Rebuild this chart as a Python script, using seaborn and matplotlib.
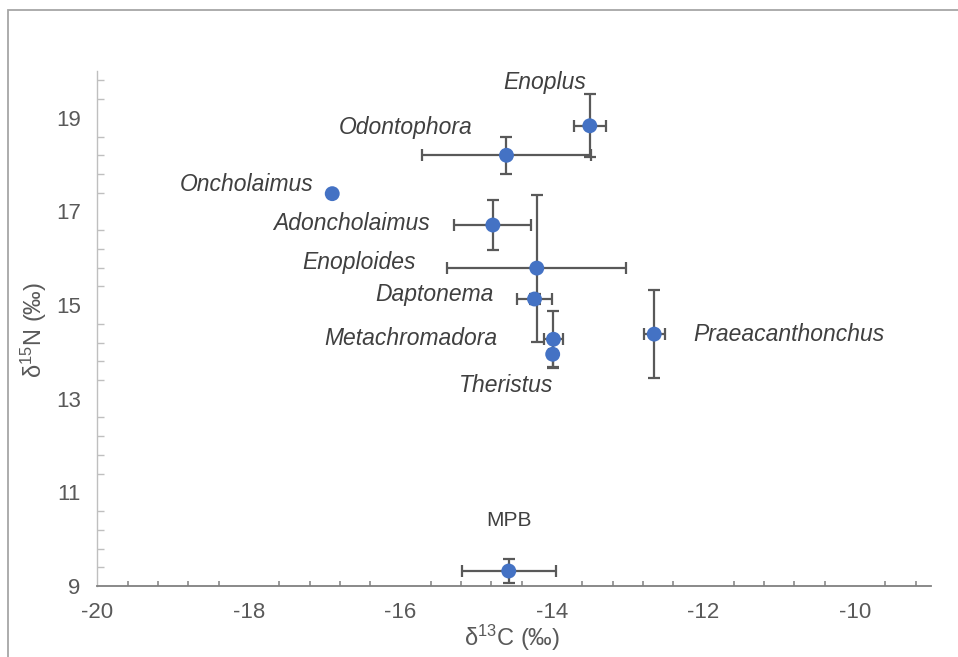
import numpy as np
import pandas as pd
import matplotlib
matplotlib.use("Agg")
import matplotlib.pyplot as plt
from matplotlib.patches import Rectangle
import seaborn as sns

# Stable isotope values (mean and error) for nematode genera and microphytobenthos
taxa = ["Enoplus", "Odontophora", "Oncholaimus", "Adoncholaimus", "Enoploides",
        "Daptonema", "Metachromadora", "Theristus", "Praeacanthonchus", "MPB"]
d13c = [-13.50, -14.60, -16.90, -14.78, -14.20, -14.23, -13.98, -13.99, -12.65, -14.57]
d15n = [18.83, 18.20, 17.38, 16.71, 15.79, 15.13, 14.27, 13.95, 14.38, 9.32]
d13c_err = [0.21, 1.12, 0.0, 0.51, 1.18, 0.23, 0.12, 0.05, 0.14, 0.62]
d15n_err = [0.67, 0.40, 0.0, 0.54, 1.57, 0.10, 0.60, 0.30, 0.94, 0.25]

x_major = [-20, -18, -16, -14, -12, -10]
y_major = [9, 11, 13, 15, 17, 19]

df = pd.DataFrame({"taxon": taxa, "d13C": d13c, "d15N": d15n,
                   "d13C_err": d13c_err, "d15N_err": d15n_err})

sns.set_theme(style="white")
plt.rcParams["font.family"] = ["Liberation Sans", "DejaVu Sans"]
plt.rcParams["mathtext.fontset"] = "custom"
plt.rcParams["mathtext.rm"] = "Liberation Sans"
plt.rcParams["mathtext.it"] = "Liberation Sans:italic"

W, H = 958, 657
fig = plt.figure(figsize=(W / 100, H / 100), dpi=100)
ax = fig.add_axes([97.4 / W, (H - 586) / H, 833.3 / W, 515 / H])

# chart-area frame
fig.add_artist(Rectangle((8 / W, -1), 2, 1 + (H - 10) / H, transform=fig.transFigure,
                         fill=False, edgecolor="#A6A6A6", linewidth=1.3))

# error bars for taxa that have them
err = df[(df["d13C_err"] > 0) | (df["d15N_err"] > 0)]
ax.errorbar(err["d13C"], err["d15N"], xerr=err["d13C_err"], yerr=err["d15N_err"],
            fmt="none", ecolor="#595959", elinewidth=1.6, capsize=4.5, capthick=1.6,
            zorder=2)

sns.scatterplot(data=df, x="d13C", y="d15N", ax=ax, color="#4472C4", s=115,
                edgecolor="none", linewidth=0, zorder=3, legend=False)

# data labels: (dx, dy) in pixels and horizontal alignment
label_pos = {
    "Enoplus": (-4, 43, "right"),
    "Odontophora": (-34, 28, "right"),
    "Oncholaimus": (-19, 9, "right"),
    "Adoncholaimus": (-63, 2, "right"),
    "Enoploides": (-121, 6, "right"),
    "Daptonema": (-41, 5, "right"),
    "Metachromadora": (-56, 1, "right"),
    "Theristus": (-47, -31, "center"),
    "Praeacanthonchus": (39, 0, "left"),
    "MPB": (0, 51, "center"),
}
for _, r in df.iterrows():
    dx, dy, ha = label_pos[r["taxon"]]
    italic = r["taxon"] != "MPB"
    ax.annotate(r["taxon"], (r["d13C"], r["d15N"]), xytext=(dx, dy),
                textcoords="offset pixels", ha=ha, va="center",
                fontsize=16.5 if italic else 15,
                fontstyle="italic" if italic else "normal",
                color="#404040", zorder=4)

ax.set_xlim(-20, -9)
ax.set_ylim(9, 20)
ax.set_xticks(x_major)
ax.set_xticks(np.arange(-20, -9 + 0.01, 0.4), minor=True)
ax.set_yticks(y_major)
ax.set_yticks(np.arange(9, 20 + 0.01, 0.4), minor=True)
ax.set_xticklabels([str(v) for v in x_major])
ax.set_yticklabels([str(v) for v in y_major])

for s in ["top", "right"]:
    ax.spines[s].set_visible(False)
ax.spines["bottom"].set_color("#808080")
ax.spines["bottom"].set_linewidth(1.3)
ax.spines["left"].set_color("#BFBFBF")
ax.spines["left"].set_linewidth(1.0)

ax.tick_params(axis="x", which="major", direction="inout", length=9, width=1.3,
               color="#808080", labelsize=16, labelcolor="#595959", pad=7)
ax.tick_params(axis="x", which="minor", direction="in", length=3.5, width=1.1,
               color="#808080", bottom=True)
ax.tick_params(axis="y", which="major", direction="in", length=5, width=1.0,
               color="#BFBFBF", labelsize=16, labelcolor="#595959", pad=12)
ax.tick_params(axis="y", which="minor", direction="in", length=5, width=1.0,
               color="#BFBFBF", left=True)

ax.set_xlabel(r"δ$^{13}$C (‰)", fontsize=17, color="#595959", va="center")
ax.set_ylabel(r"δ$^{15}$N (‰)", fontsize=17, color="#595959", va="center")
ax.xaxis.set_label_coords((512 - 97.4) / 833.3, (586 - 638) / 515)
ax.yaxis.set_label_coords((34 - 97.4) / 833.3, (586 - 330) / 515)

fig.savefig("out.png", dpi=100)
